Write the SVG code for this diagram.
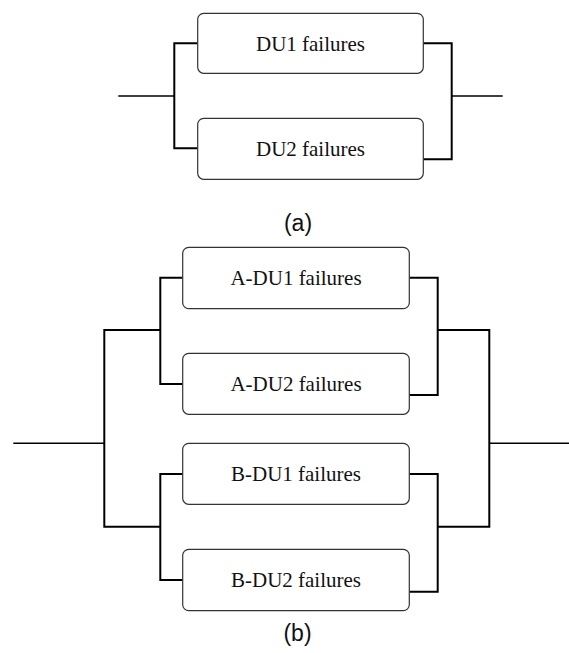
<svg xmlns="http://www.w3.org/2000/svg" width="569" height="653" viewBox="0 0 569 653">
  <style>
    .box { fill: #ffffff; stroke: #333333; stroke-width: 1.2; }
    .lbl { font-family: "Liberation Serif", "Times New Roman", serif; font-size: 21px; fill: #111111; text-anchor: middle; }
    .cap { font-family: "Liberation Sans", Arial, sans-serif; font-size: 23px; fill: #111111; text-anchor: middle; }
    .wire { fill: none; stroke: #000000; stroke-width: 2; stroke-linejoin: miter; }
    .lead { fill: none; stroke: #000000; stroke-width: 1.6; }
  </style>
  <rect width="569" height="653" fill="#ffffff"/>

  <!-- (a) two units in parallel -->
  <g id="connectors-a">
    <path class="lead" d="M118.3 96 H174.3"/>
    <path class="wire" d="M197.7 43.3 H174.3 V148.3 H197.7"/>
    <path class="wire" d="M423.3 43.3 H451.7 V159.3 H423.3"/>
    <path class="lead" d="M451.7 96 H502.7"/>
  </g>
  <g id="du1">
    <rect class="box" x="197.7" y="13.3" width="225.6" height="60" rx="6"/>
    <text class="lbl" x="310.5" y="50.5">DU1 failures</text>
  </g>
  <g id="du2">
    <rect class="box" x="197.7" y="118.3" width="225.6" height="61" rx="6"/>
    <text class="lbl" x="310.5" y="155.5">DU2 failures</text>
  </g>
  <text class="cap" x="298" y="231">(a)</text>

  <!-- (b) two parallel pairs in parallel -->
  <g id="connectors-b">
    <path class="lead" d="M13.3 443.3 H104.3"/>
    <path class="wire" d="M160.3 330 H104.3 V526.7 H160.3"/>
    <path class="wire" d="M182.7 277.7 H160.3 V384 H182.7"/>
    <path class="wire" d="M182.7 474 H160.3 V580 H182.7"/>
    <path class="wire" d="M409.3 277.7 H437.7 V395 H409.3"/>
    <path class="wire" d="M409.3 474 H437.7 V591.7 H409.3"/>
    <path class="wire" d="M437.7 330 H489.3 V526.7 H437.7"/>
    <path class="lead" d="M489.3 443.3 H569"/>
  </g>
  <g id="a-du1">
    <rect class="box" x="182.7" y="247.3" width="226.6" height="61.4" rx="6"/>
    <text class="lbl" x="296" y="285">A-DU1 failures</text>
  </g>
  <g id="a-du2">
    <rect class="box" x="182.7" y="353.3" width="226.6" height="61" rx="6"/>
    <text class="lbl" x="296" y="391">A-DU2 failures</text>
  </g>
  <g id="b-du1">
    <rect class="box" x="182.7" y="443.3" width="226.6" height="61" rx="6"/>
    <text class="lbl" x="296" y="481">B-DU1 failures</text>
  </g>
  <g id="b-du2">
    <rect class="box" x="182.7" y="549.3" width="226.6" height="61.4" rx="6"/>
    <text class="lbl" x="296" y="587">B-DU2 failures</text>
  </g>
  <text class="cap" x="297.5" y="641">(b)</text>
</svg>
